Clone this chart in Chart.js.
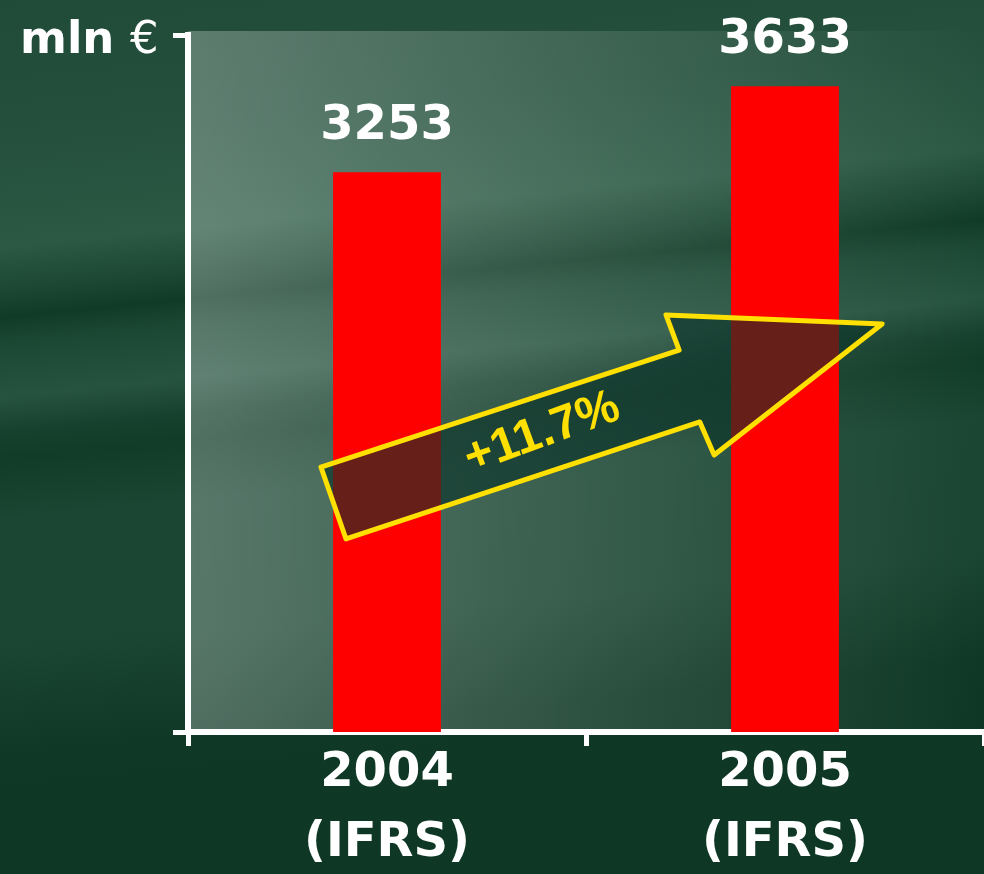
<!DOCTYPE html>
<html>
<head>
<meta charset="utf-8">
<script src="https://cdn.jsdelivr.net/npm/chart.js@4.4.1/dist/chart.umd.min.js"></script>
<style>
  html, body { margin: 0; padding: 0; background: #17402f; }
  canvas { display: block; }
</style>
</head>
<body>
<canvas id="chart" width="984" height="874"></canvas>
<script>
// data
const categories = [["2004", "(IFRS)"], ["2005", "(IFRS)"]];
const revenue = [3253, 3633];
const unitLabel = "mln";
const currencyLabel = "€";
const growthLabel = "+11.7%";
const axisMin = 780;
const axisMax = 3860;

const FONT = "'DejaVu Sans', 'Liberation Sans', sans-serif";

// green slide background with the soft streaks
const backgroundPlugin = {
  id: "background",
  beforeDraw(chart) {
    const ctx = chart.ctx;
    const w = chart.width;
    const h = chart.height;
    ctx.save();
    // streaks rise slightly to the right
    const g = ctx.createLinearGradient(0, 0, 0.1 * h, h);
    g.addColorStop(0.0, "#214b39");
    g.addColorStop(0.16, "#24503d");
    g.addColorStop(0.28, "#2b5944");
    g.addColorStop(0.33, "#1b4733");
    g.addColorStop(0.36, "#103b27");
    g.addColorStop(0.39, "#1b4834");
    g.addColorStop(0.45, "#265340");
    g.addColorStop(0.49, "#16412e");
    g.addColorStop(0.52, "#113c28");
    g.addColorStop(0.59, "#1a4633");
    g.addColorStop(0.74, "#1a4532");
    g.addColorStop(0.86, "#0f3826");
    g.addColorStop(1.0, "#0e3725");
    ctx.fillStyle = g;
    ctx.fillRect(0, 0, w, h);

    // lighter panel behind the bars
    const a = chart.chartArea;
    const p = ctx.createLinearGradient(a.left, 0, a.right, 0);
    p.addColorStop(0, "rgba(255,255,255,0.27)");
    p.addColorStop(0.5, "rgba(255,255,255,0.13)");
    p.addColorStop(1, "rgba(255,255,255,0.0)");
    ctx.fillStyle = p;
    ctx.fillRect(a.left, a.top - 4, a.right - a.left, a.bottom - a.top + 4);
    ctx.restore();
  }
};

// value labels, growth arrow and unit
const labelsPlugin = {
  id: "labels",
  afterDatasetsDraw(chart) {
    const ctx = chart.ctx;
    const xs = chart.scales.x;
    const ys = chart.scales.y;
    const meta = chart.getDatasetMeta(0);
    ctx.save();

    // arrow, points given in (category index, value) units
    const shape = [
      [-0.166, 1951], [0.734, 2468], [0.701, 2623], [1.244, 2583],
      [0.822, 2004], [0.786, 2150], [-0.103, 1633]
    ];
    const step = xs.getPixelForValue(1) - xs.getPixelForValue(0);
    const px = (i) => xs.getPixelForValue(0) + i * step;
    ctx.beginPath();
    shape.forEach(([i, v], k) => {
      if (k === 0) ctx.moveTo(px(i), ys.getPixelForValue(v));
      else ctx.lineTo(px(i), ys.getPixelForValue(v));
    });
    ctx.closePath();
    ctx.fillStyle = "rgba(10,50,40,0.62)";
    ctx.fill();
    ctx.lineWidth = 5;
    ctx.lineJoin = "round";
    ctx.strokeStyle = "#ffe000";
    ctx.stroke();

    ctx.translate(px(0.39), ys.getPixelForValue(2100));
    ctx.rotate(-20 * Math.PI / 180);
    ctx.fillStyle = "#ffe000";
    ctx.font = "bold 48px 'Liberation Sans', Arial, sans-serif";
    ctx.textAlign = "center";
    ctx.textBaseline = "middle";
    ctx.fillText(growthLabel, 0, 0);
    ctx.restore();

    ctx.save();
    ctx.fillStyle = "#ffffff";
    ctx.font = "bold 48px " + FONT;
    ctx.textAlign = "center";
    ctx.textBaseline = "alphabetic";
    meta.data.forEach((bar, i) => {
      ctx.fillText(String(revenue[i]), bar.x, bar.y - 33);
    });

    ctx.textAlign = "left";
    ctx.font = "bold 45px " + FONT;
    ctx.fillText(unitLabel, 20, 53);
    const wUnit = ctx.measureText(unitLabel + " ").width;
    ctx.font = "45px " + FONT;
    ctx.fillText(currencyLabel, 20 + wUnit, 53);
    ctx.restore();
  }
};

new Chart(document.getElementById("chart"), {
  type: "bar",
  data: {
    labels: categories,
    datasets: [{
      data: revenue,
      backgroundColor: "#ff0000",
      borderWidth: 0,
      categoryPercentage: 1,
      barPercentage: 0.271
    }]
  },
  options: {
    responsive: false,
    animation: false,
    layout: { padding: { left: 173, top: 35, right: 0, bottom: 0 } },
    plugins: {
      legend: { display: false },
      tooltip: { enabled: false }
    },
    scales: {
      x: {
        offset: true,
        z: 1,
        grid: {
          offset: true,
          drawOnChartArea: false,
          tickLength: 14,
          color: "#ffffff",
          lineWidth: 5
        },
        border: { color: "#ffffff", width: 6 },
        ticks: {
          color: "#ffffff",
          font: { family: FONT, size: 48, weight: "bold", lineHeight: 1.46 },
          padding: -8,
          maxRotation: 0,
          autoSkip: false
        },
        afterFit(scale) { scale.height = 142; }
      },
      y: {
        min: axisMin,
        max: axisMax,
        z: 1,
        afterBuildTicks(scale) {
          scale.ticks = [{ value: axisMin }, { value: axisMax }];
        },
        grid: {
          drawOnChartArea: false,
          tickLength: 15,
          color: "#ffffff",
          lineWidth: 5
        },
        border: { color: "#ffffff", width: 6 },
        ticks: { display: false },
        afterFit(scale) { scale.width = 15; }
      }
    }
  },
  plugins: [backgroundPlugin, labelsPlugin]
});
</script>
</body>
</html>
